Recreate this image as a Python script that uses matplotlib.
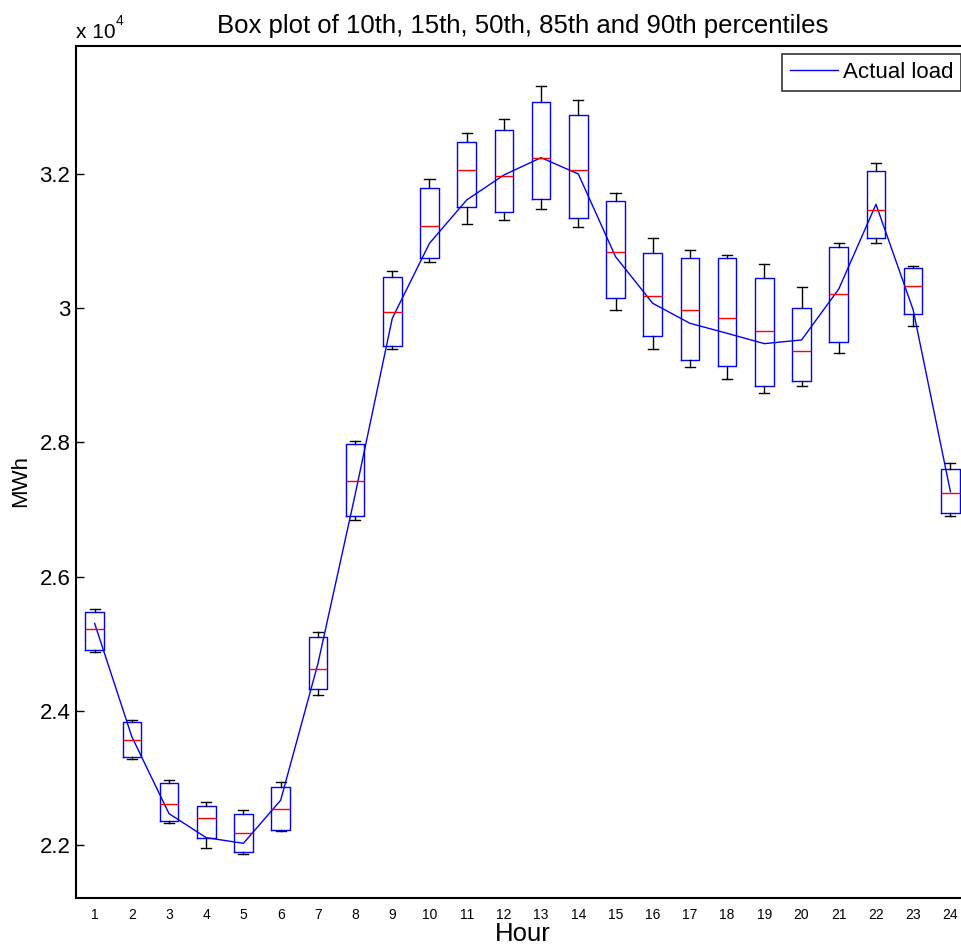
import numpy as np
import matplotlib
matplotlib.use("Agg")
import matplotlib.pyplot as plt
from matplotlib.ticker import FuncFormatter

plt.rcParams["font.family"] = ["Liberation Sans", "DejaVu Sans"]

# percentiles (MWh)
hours = list(range(1, 25))
p10 = [24881, 23281, 22328, 21950, 21861, 22204, 24230, 26838, 29395, 30692, 31258, 31313,
       31476, 31208, 29972, 29395, 29122, 28948, 28730, 28839, 29326, 30975, 29738, 26902]
p15 = [24906, 23316, 22363, 22109, 21896, 22219, 24319, 26902, 29430, 30741, 31511, 31437,
       31625, 31347, 30150, 29589, 29232, 29142, 28834, 28909, 29500, 31049, 29917, 26942]
p50 = [25211, 23565, 22616, 22407, 22184, 22541, 24622, 27424, 29947, 31228, 32062, 31973,
       32231, 32062, 30831, 30185, 29967, 29857, 29664, 29356, 30205, 31457, 30329, 27240]
p85 = [25475, 23833, 22919, 22586, 22467, 22859, 25104, 27975, 30463, 31784, 32480, 32658,
       33071, 32877, 31596, 30826, 30741, 30741, 30453, 30006, 30915, 32043, 30597, 27597]
p90 = [25511, 23863, 22969, 22646, 22522, 22934, 25179, 28020, 30553, 31923, 32604, 32817,
       33304, 33106, 31720, 31044, 30871, 30791, 30662, 30309, 30970, 32167, 30627, 27687]
actual = [25303, 23614, 22467, 22109, 22025, 22666, 24697, 27215, 29847, 30965, 31611, 31983,
          32241, 31998, 30766, 30071, 29773, 29624, 29470, 29525, 30284, 31546, 29972, 27265]

stats = [dict(whislo=a, q1=b, med=c, q3=d, whishi=e, fliers=[])
         for a, b, c, d, e in zip(p10, p15, p50, p85, p90)]

fig = plt.figure(figsize=(9.61, 9.47), dpi=100)
ax = fig.add_axes([76 / 961, 49 / 947, 893 / 961, 852 / 947])

ax.bxp(stats, positions=hours, widths=0.5, capwidths=0.27, showfliers=False,
       boxprops=dict(color="blue", linewidth=1.0),
       medianprops=dict(color="red", linewidth=1.0),
       whiskerprops=dict(color="black", linewidth=1.0),
       capprops=dict(color="black", linewidth=1.0))
ax.plot(hours, actual, color="blue", linewidth=1.0, label="Actual load")

ax.set_xlim(0.5, 24.5)
ax.set_ylim(21210, 33905)
ax.set_xticks(hours)
ax.set_xticklabels([str(h) for h in hours], fontsize=10)
ax.set_yticks([22000, 24000, 26000, 28000, 30000, 32000])
ax.yaxis.set_major_formatter(FuncFormatter(lambda v, p: f"{v / 1e4:g}"))
ax.tick_params(axis="y", direction="in", length=6, width=1, labelsize=16,
               right=True, pad=4)
ax.tick_params(axis="x", length=0, pad=7)
for sp in ax.spines.values():
    sp.set_linewidth(1.5)

ax.set_title("Box plot of 10th, 15th, 50th, 85th and 90th percentiles",
             fontsize=18.5, pad=9)
ax.set_xlabel("Hour", fontsize=18.5, labelpad=0)
ax.set_ylabel("MWh", fontsize=16)
ax.yaxis.set_label_coords(-0.05, 0.49)

fig.text(76 / 961, 1 - 38 / 947, "x 10", fontsize=15, ha="left", va="baseline")
fig.text(116 / 961, 1 - 25 / 947, "4", fontsize=10, ha="left", va="baseline")

leg = ax.legend(loc="upper right", fontsize=16, frameon=True, fancybox=False,
                borderaxespad=0.36, handlelength=2.16, handletextpad=0.22,
                borderpad=0.35)
leg.get_frame().set_edgecolor("black")
leg.get_frame().set_linewidth(1.2)

fig.savefig("out.png", dpi=100)
